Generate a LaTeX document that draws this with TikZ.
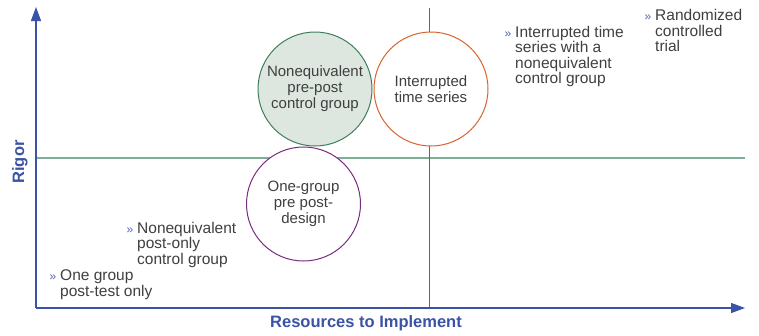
\documentclass[tikz,border=0pt]{standalone}
\usepackage{fontspec}
\setmainfont{Liberation Sans}
\usetikzlibrary{positioning,arrows.meta}
\definecolor{axisblue}{HTML}{3A53A4}
\definecolor{bulletblue}{HTML}{5462AE}
\definecolor{sagegreen}{HTML}{7DAE96}
\definecolor{darkgreen}{HTML}{3C7D57}
\definecolor{circlegreen}{HTML}{3F7F5C}
\definecolor{circlefill}{HTML}{DDE7E0}
\definecolor{rustorange}{HTML}{D8642E}
\definecolor{plum}{HTML}{7A2C7F}
\definecolor{textgray}{HTML}{3F3F3F}
\newcommand{\bul}{\llap{{\fontsize{12}{12}\selectfont\color{bulletblue}»}\hspace{4pt}}}

\begin{document}
\begin{tikzpicture}[x=1pt,y=-1pt,
		axis/.style={draw=axisblue,line width=1.3pt,-{Triangle[width=10pt,length=14pt]}},
		ring/.style={circle,draw,line width=1pt,minimum size=114pt,inner sep=0pt,align=center,text=textgray,font=\fontsize{15}{16}\selectfont},
		note/.style={anchor=north west,inner sep=0pt,align=left,text=textgray,font=\fontsize{15.5}{15.5}\selectfont},
		axislabel/.style={text=axisblue,font=\bfseries\fontsize{16.5}{18}\selectfont}]
			\useasboundingbox (0,0) rectangle (759,335);

			\coordinate														(o)		at (36,308);
			\coordinate														(ytip)	at (36,7);
			\coordinate														(xtip)	at (745,308);
			\coordinate														(hl)	at (36,158);
			\coordinate														(hr)	at (745,158);
			\coordinate														(vt)	at (429,8);
			\coordinate														(vb)	at (429,308);

			\draw[sagegreen,line width=1.2pt] (hl) -- (hr);
			\draw[darkgreen,line width=0.9pt] (vt) -- (vb);
			\draw[axis] (o) -- (ytip);
			\draw[axis] (o) -- (xtip);

			\node[ring,draw=circlegreen,fill=circlefill]						(gc)	at (315,89)	{Nonequivalent\\pre-post\\control group};
			\node[ring,draw=rustorange,fill=white,node distance=1pt,right=of gc]	(oc)	{Interrupted\\time series};
			\node[ring,draw=plum,fill=white,node distance=0pt,below=of gc,xshift=-11.5pt]	(pc)	{One-group\\pre post-\\design};

			\node[note]														(ogpt)	at (60,269.7)	{\bul One group\\post-test only};
			\node[note]														(npoc)	at (137,221.7)	{\bul Nonequivalent\\post-only\\control group};
			\node[note]														(itsn)	at (515,25.7)	{\bul Interrupted time\\series with a\\nonequivalent\\control group};
			\node[note]														(rct)	at (655,9.4)	{\bul Randomized\\controlled\\trial};

			\node[axislabel,rotate=90]										(rigor)	at (20,162)	{Rigor};
			\node[axislabel]												(res)	at (366,323)	{Resources to Implement};
		\end{tikzpicture}
\end{document}
